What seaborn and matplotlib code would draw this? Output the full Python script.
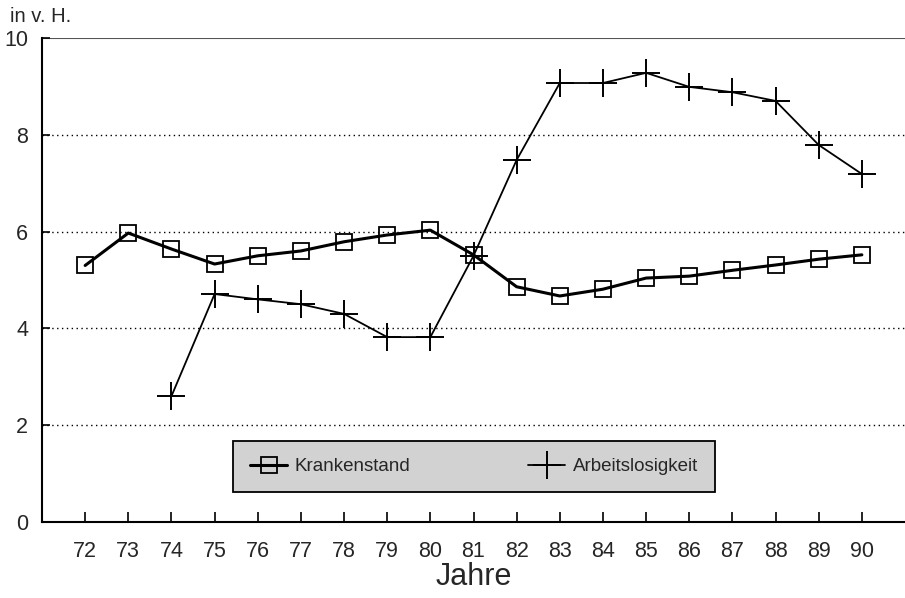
import numpy as np
import pandas as pd
import matplotlib
matplotlib.use("Agg")
import matplotlib.pyplot as plt
import seaborn as sns

years = [72, 73, 74, 75, 76, 77, 78, 79, 80, 81, 82, 83, 84, 85, 86, 87, 88, 89, 90]
krankenstand = [5.3, 5.97, 5.64, 5.33, 5.5, 5.6, 5.79, 5.93, 6.03, 5.52, 4.86, 4.67, 4.81, 5.04, 5.08, 5.2, 5.31, 5.43, 5.52]
arbeitslosigkeit = [np.nan, np.nan, 2.6, 4.71, 4.6, 4.5, 4.3, 3.82, 3.82, 5.5, 7.48, 9.07, 9.07, 9.28, 8.99, 8.88, 8.7, 7.79, 7.19]
y_ticks = [0, 2, 4, 6, 8, 10]

sns.set_theme(style="white")
plt.rcParams['font.family'] = ['Liberation Sans', 'DejaVu Sans']

fig = plt.figure(figsize=(9.05, 5.98), dpi=100)
ax = fig.add_axes([42/905, 1-522/598, 863/905, 484/598])

df = pd.DataFrame({"Jahr": years, "Krankenstand": krankenstand, "Arbeitslosigkeit": arbeitslosigkeit})

for yv in [2, 4, 6, 8]:
    ax.axhline(yv, color="black", lw=1.0, ls=(0, (1, 2.5)), zorder=0)
ax.axhline(10, color="#555555", lw=1.5, zorder=0)

sns.lineplot(data=df, x="Jahr", y="Krankenstand", ax=ax, color="black", lw=2.2,
             marker="s", markersize=11, markerfacecolor="none", markeredgecolor="black",
             markeredgewidth=1.3, label="Krankenstand")
d2 = df.dropna(subset=["Arbeitslosigkeit"])
sns.lineplot(data=d2, x="Jahr", y="Arbeitslosigkeit", ax=ax, color="black", lw=1.3,
             marker="+", markersize=20, markeredgewidth=1.4, markeredgecolor="black",
             markerfacecolor="black", label="Arbeitslosigkeit")

ax.set_xlim(71, 91)
ax.set_ylim(0, 10)
ax.set_xticks(years)
ax.set_xticklabels([str(y) for y in years], fontsize=15.5)
ax.set_yticks(y_ticks)
ax.set_yticklabels([str(y) for y in y_ticks], fontsize=15.5)
ax.tick_params(axis="x", direction="in", length=7, width=1.2, color="black",
               bottom=True, pad=14)
ax.tick_params(axis="y", direction="in", length=6, width=1.2, color="black",
               left=True, pad=10)
for s in ["top", "right"]:
    ax.spines[s].set_visible(False)
for s in ["left", "bottom"]:
    ax.spines[s].set_color("black")
    ax.spines[s].set_linewidth(1.5)

ax.set_ylabel("")
ax.set_xlabel("Jahre", fontsize=22, labelpad=0)
fig.text(10/905, 1-17/598, "in v. H.", fontsize=14.5, va="center", ha="left")

leg = ax.legend(loc="lower left", bbox_to_anchor=(191/863, 30/484, 482/863, 58/484),
                mode="expand", ncol=2, fontsize=13.5, frameon=True, fancybox=False,
                framealpha=1, handlelength=2.0, borderaxespad=0, borderpad=0.9,
                columnspacing=1.0, handletextpad=0.4)
frame = leg.get_frame()
frame.set_facecolor("#d2d2d2")
frame.set_edgecolor("black")
frame.set_linewidth(1.3)

fig.savefig("out.png", dpi=100)
